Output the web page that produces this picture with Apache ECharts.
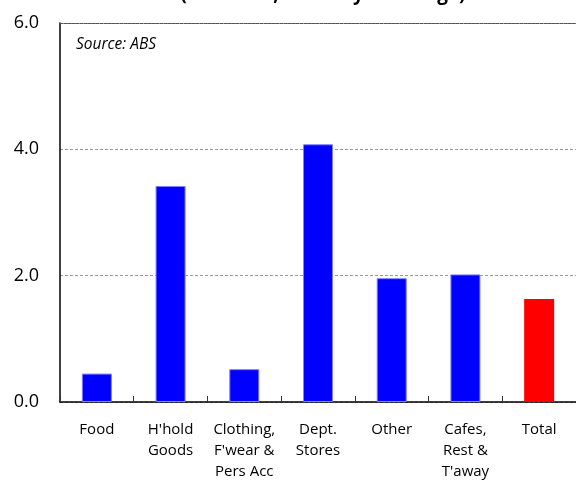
<!DOCTYPE html>
<html><head><meta charset="utf-8">
<script src="https://cdn.jsdelivr.net/npm/echarts@6/dist/echarts.min.js"></script>
<style>html,body{margin:0;padding:0;background:#fff}#c{width:576px;height:482px}</style>
</head><body><div id="c"></div>
<script>
const categories = ["Food", "H'hold\nGoods", "Clothing,\nF'wear &\nPers Acc", "Dept.\nStores", "Other", "Cafes,\nRest &\nT'away", "Total"];
const values = [0.45, 3.42, 0.52, 4.08, 1.96, 2.02, 1.63];
const barColors = ["#0000ff", "#0000ff", "#0000ff", "#0000ff", "#0000ff", "#0000ff", "#ff0000"];
const yTicks = [0, 2, 4, 6];

const font = "'Open Sans', 'Noto Sans', sans-serif";
const chart = echarts.init(document.getElementById('c'), null, {renderer: 'canvas'});
chart.setOption({
  animation: false,
  graphic: [{
    type: 'text', x: 323, y: -15,
    style: {text: "(Nov 2023, monthly % change)", fontFamily: font, fontSize: 19, fontWeight: 'bold', fill: '#000', align: 'center', verticalAlign: 'top'}
  }, {
    type: 'text', left: 76, top: 37,
    style: {text: 'Source: ABS', fontFamily: font, fontSize: 15.5, fontStyle: 'italic', fill: '#000'}
  }],
  grid: {left: 60, top: 23, width: 525, height: 381, containLabel: false},
  xAxis: [{
    type: 'category', data: categories, position: 'bottom',
    axisLine: {lineStyle: {color: '#000', width: 1.5}},
    axisTick: {show: true, inside: true, length: 6, alignWithLabel: false, lineStyle: {color: '#333', width: 1}},
    axisLabel: {color: '#000', fontFamily: font, fontSize: 15, lineHeight: 21, margin: 17, interval: 0},
    splitLine: {show: false}
  }, {
    type: 'category', data: categories, position: 'top',
    axisLine: {lineStyle: {color: '#555', width: 1, type: [3, 1]}},
    axisTick: {show: false}, axisLabel: {show: false}
  }],
  yAxis: {
    type: 'value', min: yTicks[0], max: yTicks[yTicks.length - 1], interval: 2,
    axisLine: {show: true, lineStyle: {color: '#000', width: 1.5}},
    axisTick: {show: false},
    axisLabel: {color: '#000', fontFamily: font, fontSize: 18, margin: 21, formatter: v => v.toFixed(1)},
    splitLine: {lineStyle: {color: '#999', type: [3, 2], width: 1}}
  },
  series: [{
    type: 'bar', xAxisIndex: 0, barWidth: 30,
    data: values.map((v, i) => ({
      value: v,
      itemStyle: {color: barColors[i], borderColor: i === 6 ? barColors[i] : '#7f7fff', borderWidth: i === 6 ? 0 : 1}
    }))
  }]
});
</script></body></html>
